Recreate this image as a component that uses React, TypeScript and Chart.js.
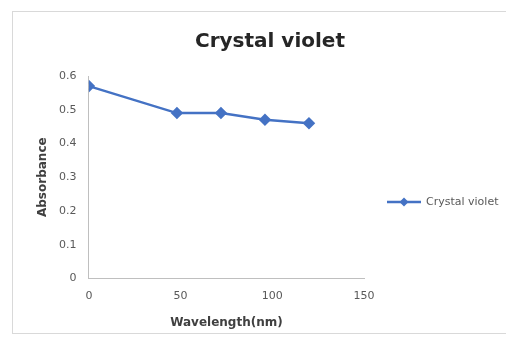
import React, { useEffect, useRef } from "react";
import { Chart, registerables } from "chart.js";

Chart.register(...registerables);

const seriesName = "Crystal violet";
const chartTitle = "Crystal violet";
const xTitle = "Wavelength(nm)";
const yTitle = "Absorbance";
const xValues = [0, 48, 72, 96, 120];
const yValues = [0.57, 0.49, 0.49, 0.47, 0.46];

const FONT = "'DejaVu Sans', sans-serif";
const BLUE = "#4472C4";

const overlayPlugin = {
  id: "overlay",
  afterDraw(chart: any) {
    const ctx = chart.ctx;
    const area = chart.chartArea;
    const ds = chart.data.datasets[0];
    ctx.save();
    // title, centred over the whole chart frame
    ctx.fillStyle = "#262626";
    ctx.font = "bold 20px " + FONT;
    ctx.textAlign = "center";
    ctx.textBaseline = "middle";
    ctx.fillText(chartTitle, chart.width / 2 + 8, 30);
    // legend
    const x0 = area.right + 23;
    const y = 190;
    ctx.strokeStyle = ds.borderColor;
    ctx.lineWidth = 2.5;
    ctx.beginPath();
    ctx.moveTo(x0, y);
    ctx.lineTo(x0 + 34, y);
    ctx.stroke();
    ctx.fillStyle = ds.borderColor;
    ctx.beginPath();
    const cx = x0 + 17;
    const r = 4.5;
    ctx.moveTo(cx, y - r);
    ctx.lineTo(cx + r, y);
    ctx.lineTo(cx, y + r);
    ctx.lineTo(cx - r, y);
    ctx.closePath();
    ctx.fill();
    ctx.fillStyle = "#595959";
    ctx.font = "11px " + FONT;
    ctx.textAlign = "left";
    ctx.fillText(ds.label, x0 + 39, y);
    ctx.restore();
  },
};

export default function App() {
  const ref = useRef<HTMLCanvasElement | null>(null);
  useEffect(() => {
    document.body.style.margin = "0";
    if (!ref.current) return;
    const chart = new Chart(ref.current, {
      type: "scatter",
      data: {
        datasets: [
          {
            label: seriesName,
            data: xValues.map((x, i) => ({ x, y: yValues[i] })),
            showLine: true,
            borderColor: BLUE,
            backgroundColor: BLUE,
            borderWidth: 2.5,
            pointStyle: "rectRot",
            pointRadius: 4.5,
            pointHoverRadius: 4.5,
            tension: 0,
          },
        ],
      },
      options: {
        animation: false,
        responsive: true,
        maintainAspectRatio: false,
        layout: { padding: { left: 23, right: 147, top: 64, bottom: 3 } },
        plugins: {
          legend: { display: false },
          tooltip: { enabled: false },
          title: { display: false },
        },
        scales: {
          x: {
            type: "linear",
            min: 0,
            max: 150,
            grid: { display: false },
            border: { display: true, color: "#bfbfbf", width: 1 },
            ticks: {
              stepSize: 50,
              color: "#595959",
              font: { family: FONT, size: 11 },
              padding: 3,
            },
            title: {
              display: true,
              text: xTitle,
              color: "#404040",
              font: { family: FONT, size: 12, weight: "bold" },
              padding: { top: 10, bottom: 0 },
            },
          },
          y: {
            min: 0,
            max: 0.6,
            grid: { display: false },
            border: { display: true, color: "#bfbfbf", width: 1 },
            ticks: {
              stepSize: 0.1,
              color: "#595959",
              font: { family: FONT, size: 11 },
              padding: 4.5,
              callback: (v: any) => String(Math.round(Number(v) * 10) / 10),
            },
            title: {
              display: true,
              text: yTitle,
              color: "#404040",
              font: { family: FONT, size: 12, weight: "bold" },
              padding: { top: 0, bottom: 4 },
            },
          },
        },
      },
      plugins: [overlayPlugin],
    });
    return () => chart.destroy();
  }, []);
  return (
    <div style={{ position: "relative", width: 506, height: 349, overflow: "hidden", background: "#fff" }}>
      <div
        style={{
          position: "absolute",
          left: 12,
          top: 11,
          width: 500,
          height: 323,
          border: "1px solid #d9d9d9",
          boxSizing: "border-box",
        }}
      >
        <canvas ref={ref} />
      </div>
    </div>
  );
}
